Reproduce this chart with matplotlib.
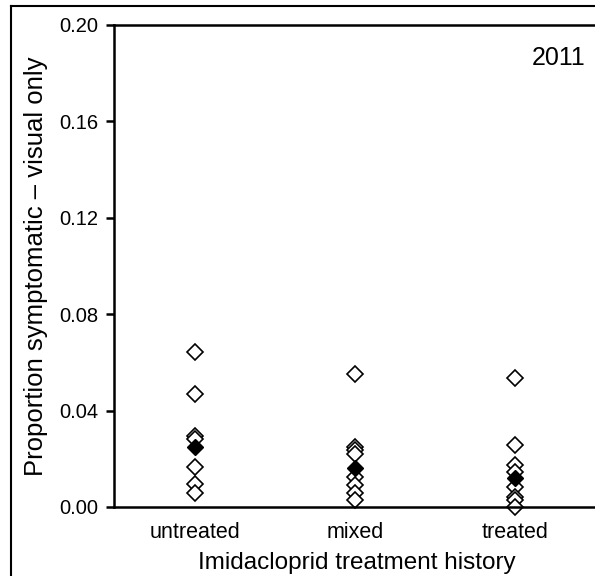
import matplotlib
matplotlib.use("Agg")
import matplotlib.pyplot as plt
from matplotlib.lines import Line2D

plt.rcParams['font.family'] = ['Liberation Sans', 'DejaVu Sans']

categories = ["untreated", "mixed", "treated"]
untreated_vals = [0.0642, 0.047, 0.0295, 0.0283, 0.0165, 0.0096, 0.0057]
mixed_vals = [0.0553, 0.025, 0.0237, 0.022, 0.0126, 0.0091, 0.0059, 0.0029]
treated_vals = [0.0535, 0.0258, 0.0175, 0.0147, 0.0084, 0.0043, 0.0029, 0.0001]
mean_vals = [0.0251, 0.0161, 0.0119]
yticks = [0.00, 0.04, 0.08, 0.12, 0.16, 0.20]
ytick_labels = ["0.00", "0.04", "0.08", "0.12", "0.16", "0.20"]

fig = plt.figure(figsize=(5.95, 5.76), dpi=100)
W, H = 595, 576
ax = fig.add_axes([114 / W, 1 - 507 / H, (600 - 114) / W, (507 - 25) / H])

for i, vals in enumerate([untreated_vals, mixed_vals, treated_vals]):
    ax.plot([i + 1] * len(vals), vals, linestyle='none', marker='D', markersize=8,
            markerfacecolor='white', markeredgecolor='black', markeredgewidth=1.2, clip_on=False)
ax.plot([1, 2, 3], mean_vals, linestyle='none', marker='D', markersize=8,
        markerfacecolor='black', markeredgecolor='black', clip_on=False)

ax.set_xlim(0.494, 3.531)
ax.set_ylim(0, 0.2)
ax.set_xticks([1, 2, 3])
ax.set_xticklabels(categories, fontsize=15.5)
ax.tick_params(axis='x', length=0, pad=11)
ax.set_yticks(yticks)
ax.set_yticklabels(ytick_labels, fontsize=14.5)
ax.tick_params(axis='y', length=6, width=1.8, pad=5)
for s in ax.spines.values():
    s.set_linewidth(1.8)
ax.set_xlabel("Imidacloprid treatment history", fontsize=17.5, labelpad=6)
ax.set_ylabel("Proportion symptomatic – visual only", fontsize=18.5, labelpad=8)
ax.text(0.915, 0.932, "2011", transform=ax.transAxes, fontsize=18, ha='center', va='center')

# outer frame
fig.add_artist(Line2D([11 / W, 11 / W], [0, 1 - 6 / H], transform=fig.transFigure, color='black', linewidth=1.5))
fig.add_artist(Line2D([11 / W, 1], [1 - 6 / H, 1 - 6 / H], transform=fig.transFigure, color='black', linewidth=1.5))

fig.savefig("out.png", dpi=100)
